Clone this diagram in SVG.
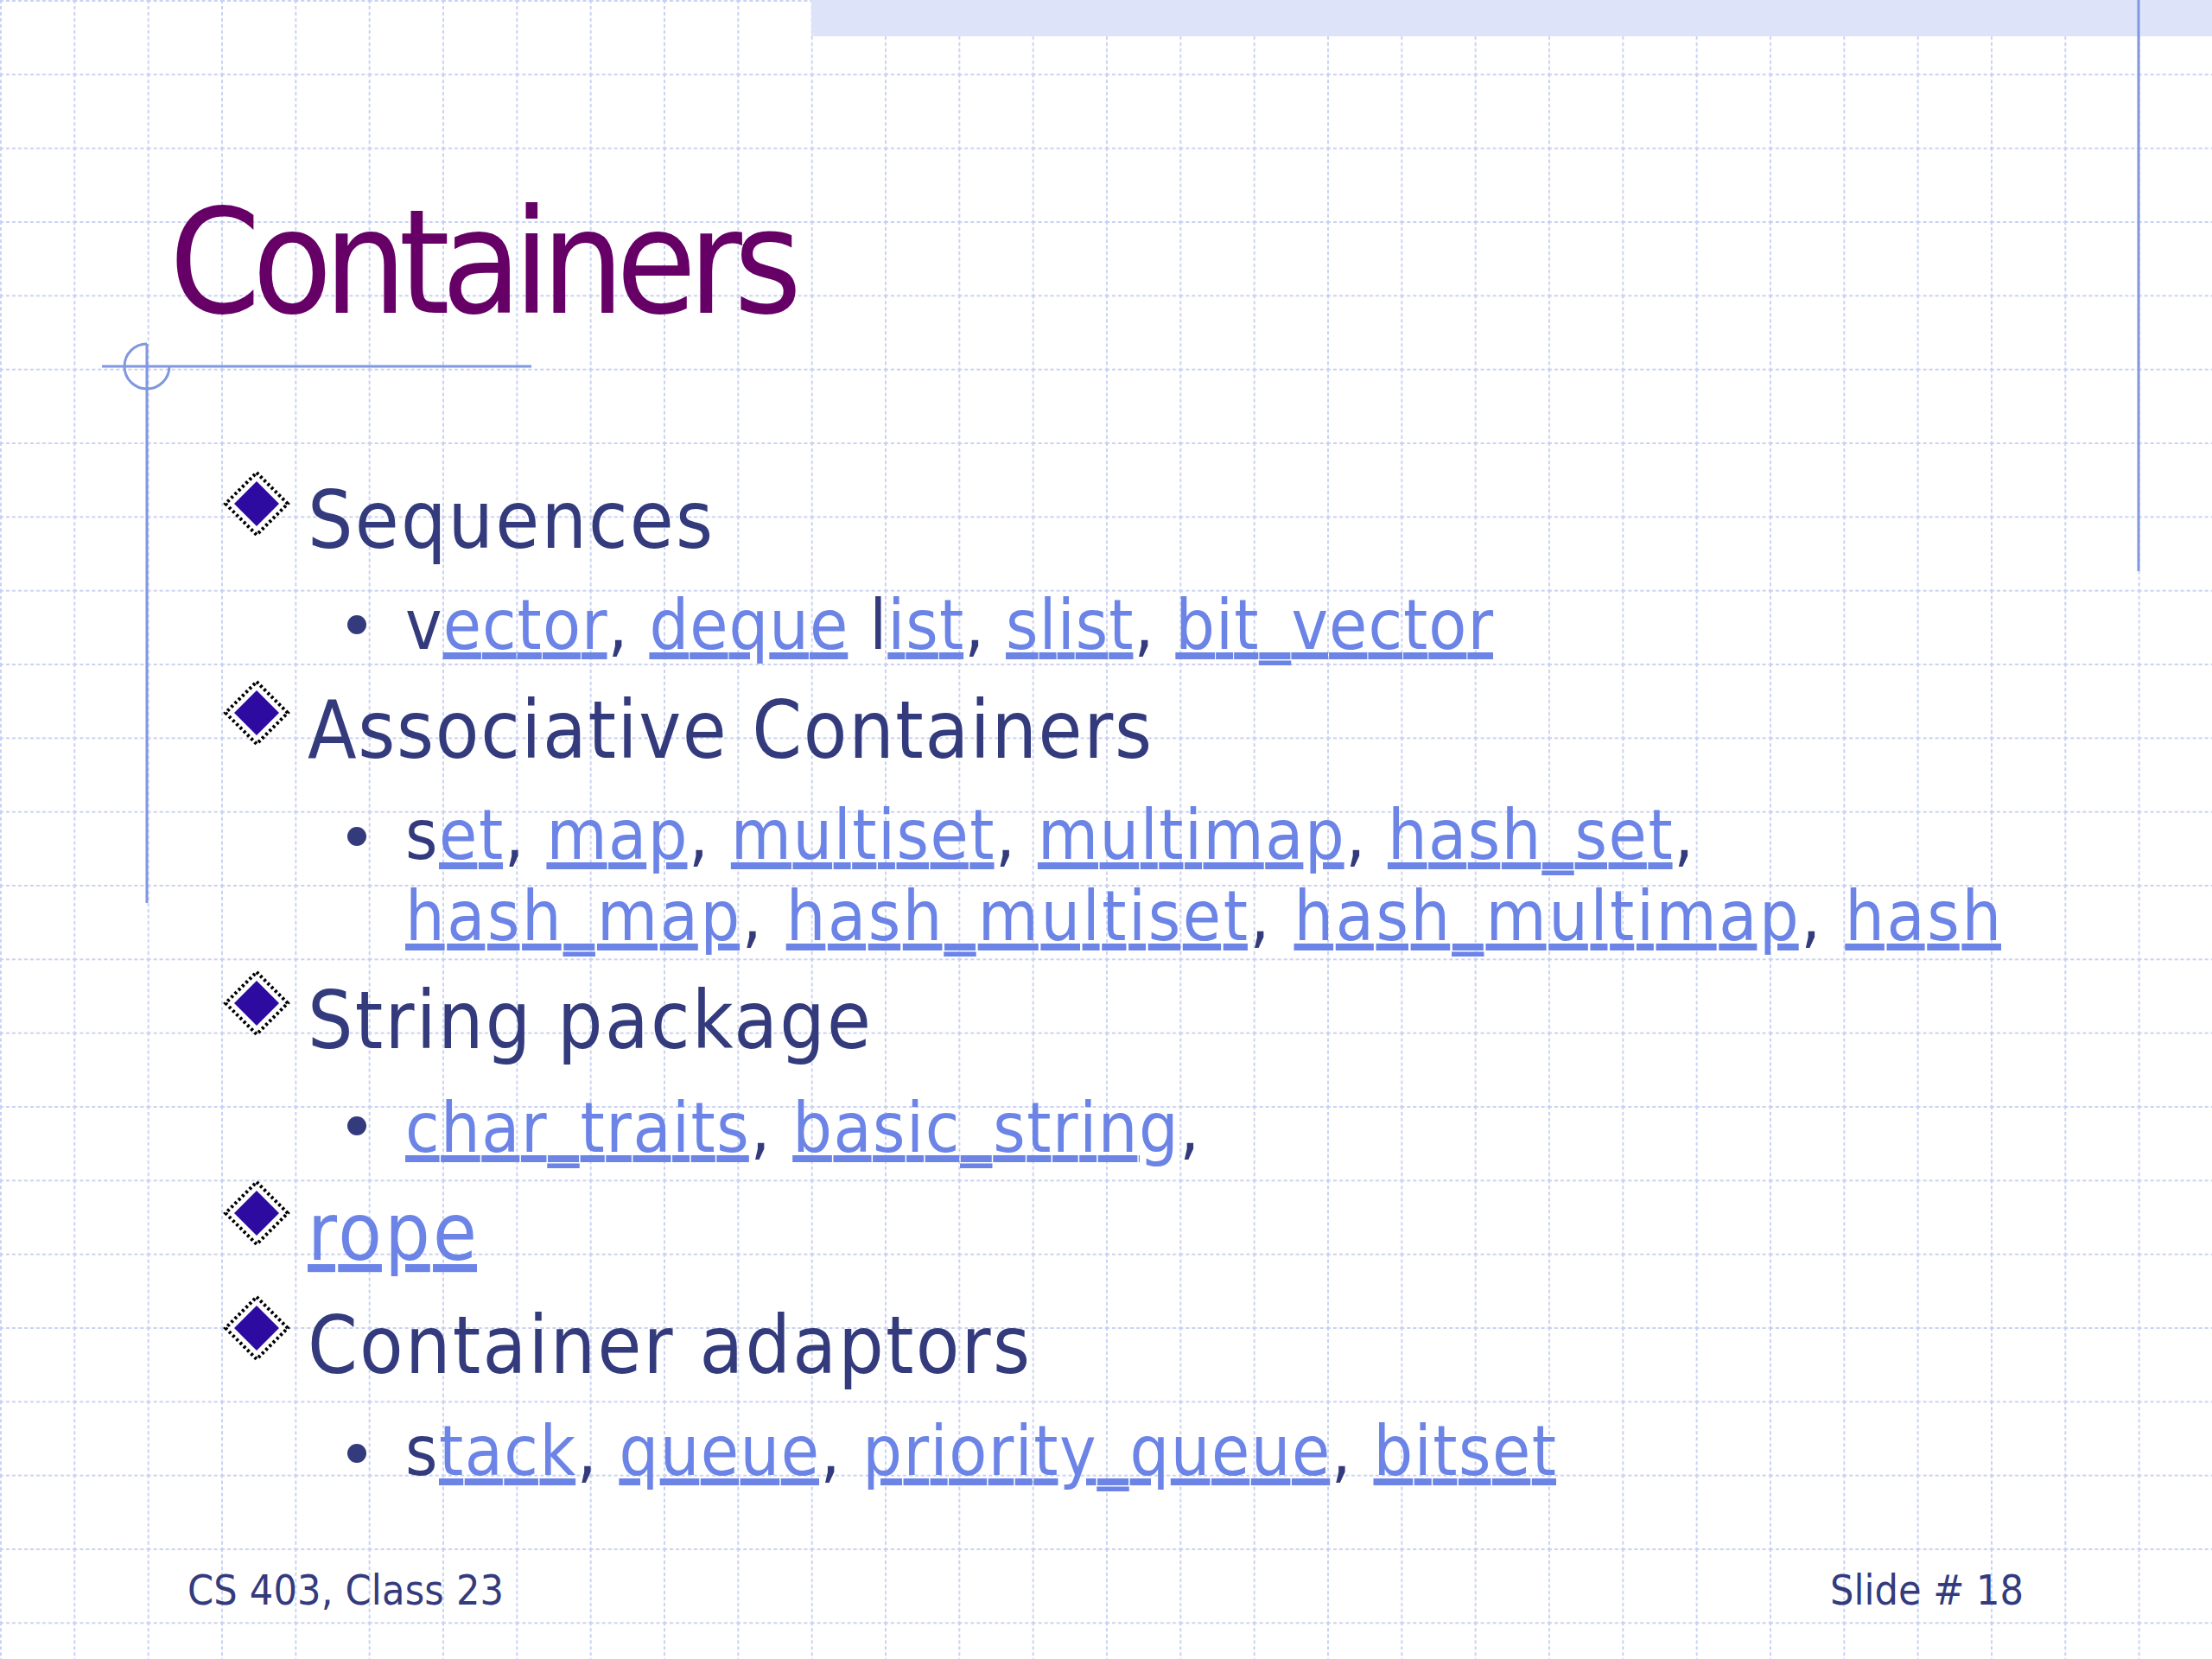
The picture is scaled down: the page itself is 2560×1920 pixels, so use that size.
<svg xmlns="http://www.w3.org/2000/svg" width="2560" height="1920" viewBox="0 0 2560 1920">
<defs>
<pattern id="grid" x="0" y="0" width="85.333" height="85.333" patternUnits="userSpaceOnUse">
<path d="M0 0.5H85.333M0.5 0V85.333" stroke="#c9d1f2" stroke-width="3" stroke-dasharray="4 3" fill="none"/>
</pattern>
<g id="dia">
<polygon points="0,-36 36,0 0,36 -36,0" fill="#fff" stroke="#000" stroke-width="4" stroke-dasharray="3 3"/>
<polygon points="0,-26 26,0 0,26 -26,0" fill="#2d0aa0"/>
</g>
</defs>
<style>
.l1{font-family:"DejaVu Sans Condensed","DejaVu Sans",sans-serif;font-size:92px;fill:#333b7d}
.l2{font-family:"DejaVu Sans Condensed","DejaVu Sans",sans-serif;font-size:80px;fill:#333b7d}
.a{fill:#6b84e6;text-decoration:underline}
.ft{font-family:"DejaVu Sans Condensed","DejaVu Sans",sans-serif;font-size:48px;fill:#333b7d}
</style>
<rect width="2560" height="1920" fill="#fff"/>
<rect width="2560" height="1920" fill="url(#grid)"/>
<rect x="939" y="0" width="1621" height="42" fill="#dde4fa"/>
<g id="decor" stroke="#8197e0" stroke-width="3" fill="none">
<line x1="2475" y1="0" x2="2475" y2="661"/>
<line x1="118" y1="424" x2="615" y2="424"/>
<line x1="170" y1="398" x2="170" y2="1045"/>
<path d="M170 398 A26 26 0 1 0 196 424"/>
</g>
<g id="title"><text x="196" y="362" font-family="DejaVu Sans Condensed, DejaVu Sans, sans-serif" font-size="168" fill="#660066" textLength="732">Containers</text></g>
<g id="bullets">
<use href="#dia" x="297" y="583"/><use href="#dia" x="297" y="825"/><use href="#dia" x="297" y="1161"/><use href="#dia" x="297" y="1404"/><use href="#dia" x="297" y="1537"/>
<g fill="#333b7d"><circle cx="413" cy="723" r="11"/><circle cx="413" cy="968" r="11"/><circle cx="413" cy="1303" r="11"/><circle cx="413" cy="1682" r="11"/></g>
</g>
<g id="n-seq"><text class="l1" x="356" y="634" textLength="469">Sequences</text>
<text class="l2" x="469" y="751" textLength="1259">v<tspan class="a">ector</tspan>, <tspan class="a">deque</tspan> l<tspan class="a">ist</tspan>, <tspan class="a">slist</tspan>, <tspan class="a">bit_vector</tspan></text></g>
<g id="n-assoc"><text class="l1" x="356" y="877" textLength="977">Associative Containers</text>
<text class="l2" x="469" y="994" textLength="1491">s<tspan class="a">et</tspan>, <tspan class="a">map</tspan>, <tspan class="a">multiset</tspan>, <tspan class="a">multimap</tspan>, <tspan class="a">hash_set</tspan>,</text>
<text class="l2" x="469" y="1088" textLength="1847"><tspan class="a">hash_map</tspan>, <tspan class="a">hash_multiset</tspan>,  <tspan class="a">hash_multimap</tspan>, <tspan class="a">hash</tspan></text></g>
<g id="n-str"><text class="l1" x="356" y="1213" textLength="652">String package</text>
<text class="l2" x="469" y="1333" textLength="919"><tspan class="a">char_traits</tspan>, <tspan class="a">basic_string</tspan>,</text></g>
<g id="n-rope"><text class="l1" x="356" y="1458" textLength="196"><tspan class="a">rope</tspan></text></g>
<g id="n-adapt"><text class="l1" x="356" y="1589" textLength="836">Container adaptors</text>
<text class="l2" x="469" y="1707" textLength="1332">s<tspan class="a">tack</tspan>, <tspan class="a">queue</tspan>, <tspan class="a">priority_queue</tspan>, <tspan class="a">bitset</tspan></text></g>
<g id="footer"><text class="ft" x="217" y="1857" textLength="366">CS 403, Class 23</text>
<text class="ft" x="2342" y="1857" text-anchor="end">Slide # 18</text></g>
</svg>
